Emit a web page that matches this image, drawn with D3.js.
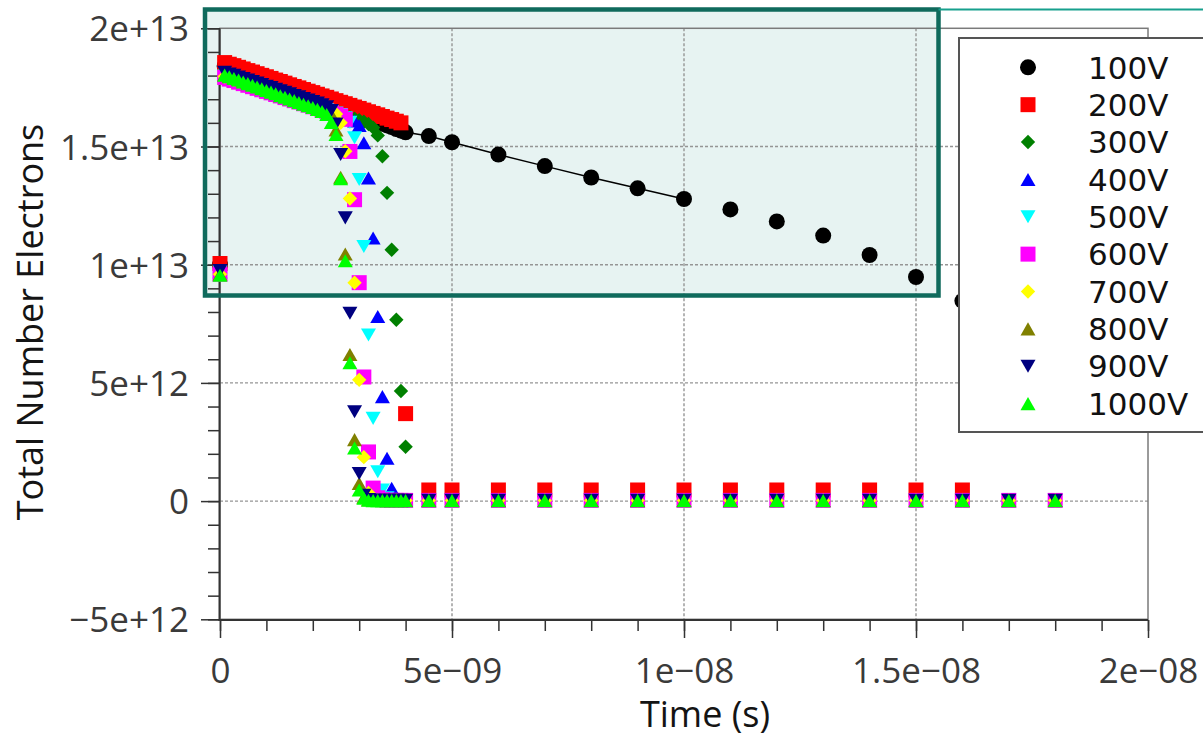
<!DOCTYPE html>
<html>
<head>
<meta charset="utf-8">
<script src="https://cdn.jsdelivr.net/npm/d3@7"></script>
<style>
  html, body { margin: 0; padding: 0; background: #fff; overflow: hidden; }
  svg { display: block; }
</style>
</head>
<body>
<svg id="chart" width="1203" height="738"></svg>
<script>
// ---- data -------------------------------------------------------------
// sample times in nanoseconds (fine output every 0.1 ns up to 4 ns, then coarse)
const timeNs = [0, 0.1, 0.2, 0.3, 0.4, 0.5, 0.6, 0.7, 0.8, 0.9,
  1.0, 1.1, 1.2, 1.3, 1.4, 1.5, 1.6, 1.7, 1.8, 1.9,
  2.0, 2.1, 2.2, 2.3, 2.4, 2.5, 2.6, 2.7, 2.8, 2.9,
  3.0, 3.1, 3.2, 3.3, 3.4, 3.5, 3.6, 3.7, 3.8, 3.9,
  4.0, 4.5, 5, 6, 7, 8, 9, 10, 11, 12, 13, 14, 15, 16, 17, 18];

// total number of electrons, in units of 1e12, one value per sample time
const e100V = [10.00, 18.40, 18.33, 18.26, 18.18, 18.11, 18.04, 17.97, 17.90, 17.83,
  17.75, 17.68, 17.61, 17.54, 17.47, 17.39, 17.32, 17.25, 17.18, 17.11,
  17.04, 16.96, 16.89, 16.82, 16.75, 16.68, 16.60, 16.53, 16.46, 16.39,
  16.32, 16.25, 16.17, 16.10, 16.03, 15.96, 15.89, 15.82, 15.74, 15.67,
  15.60, 15.44, 15.18, 14.66, 14.17, 13.69, 13.23, 12.78, 12.34, 11.83, 11.23, 10.41, 9.48, 8.47, 7.25, 5.90];

const e200V = [10.05, 18.55, 18.48, 18.42, 18.35, 18.28, 18.21, 18.15, 18.08, 18.01,
  17.95, 17.88, 17.81, 17.75, 17.68, 17.61, 17.54, 17.48, 17.41, 17.34,
  17.28, 17.21, 17.14, 17.08, 17.01, 16.94, 16.87, 16.81, 16.74, 16.67,
  16.61, 16.54, 16.47, 16.40, 16.34, 16.27, 16.20, 16.14, 16.07, 16.00,
  3.70, 0.47, 0.47, 0.47, 0.47, 0.47, 0.47, 0.47, 0.47, 0.47, 0.47, 0.47, 0.47, 0.47, null, null];

const e300V = [9.65, 18.00, 17.93, 17.87, 17.80, 17.74, 17.67, 17.61, 17.54, 17.48,
  17.41, 17.35, 17.28, 17.22, 17.15, 17.09, 17.02, 16.96, 16.89, 16.83,
  16.76, 16.70, 16.63, 16.57, 16.50, 16.44, 16.37, 16.31, 16.24, 16.18,
  16.11, 16.05, 15.95, 15.80, 15.47, 14.59, 13.04, 10.63, 7.67, 4.66,
  2.30, 0.04, 0.04, 0.04, 0.04, 0.04, 0.04, 0.04, 0.04, 0.04, 0.04, 0.04, 0.04, 0.04, 0.04, 0.04];

const e400V = [9.70, 18.02, 17.95, 17.89, 17.82, 17.76, 17.69, 17.63, 17.56, 17.50,
  17.43, 17.37, 17.30, 17.24, 17.17, 17.11, 17.04, 16.98, 16.91, 16.85,
  16.78, 16.72, 16.65, 16.59, 16.52, 16.46, 16.39, 16.33, 16.22, 16.08,
  15.89, 15.16, 13.67, 11.13, 7.81, 4.42, 1.81, 0.54, 0.15, 0.06,
  0.04, 0.03, 0.03, 0.03, 0.03, 0.03, 0.03, 0.03, 0.03, 0.03, 0.03, 0.03, 0.03, 0.03, 0.03, 0.03];

const e500V = [9.70, 17.98, 17.91, 17.85, 17.78, 17.72, 17.65, 17.59, 17.52, 17.46,
  17.39, 17.33, 17.26, 17.20, 17.13, 17.07, 17.00, 16.94, 16.87, 16.81,
  16.74, 16.68, 16.61, 16.55, 16.48, 16.42, 16.35, 16.22, 16.02, 15.37,
  13.60, 10.77, 7.03, 3.50, 1.24, 0.47, 0.14, 0.06, 0.04, 0.03,
  0.03, 0.03, 0.03, 0.03, 0.03, 0.03, 0.03, 0.03, 0.03, 0.03, 0.03, 0.03, 0.03, 0.03, 0.03, 0.03];

const e600V = [9.60, 17.92, 17.85, 17.79, 17.72, 17.66, 17.59, 17.53, 17.46, 17.40,
  17.33, 17.27, 17.20, 17.14, 17.07, 17.01, 16.94, 16.88, 16.81, 16.75,
  16.68, 16.62, 16.55, 16.49, 16.42, 16.36, 16.29, 16.15, 14.79, 12.75,
  9.24, 5.25, 2.08, 0.55, 0.14, 0.06, 0.04, 0.03, 0.03, 0.03,
  0.03, 0.03, 0.03, 0.03, 0.03, 0.03, 0.03, 0.03, 0.03, 0.03, 0.03, 0.03, 0.03, 0.03, 0.03, 0.03];

const e700V = [9.60, 17.96, 17.89, 17.83, 17.76, 17.70, 17.63, 17.57, 17.50, 17.44,
  17.37, 17.31, 17.24, 17.18, 17.11, 17.05, 16.98, 16.92, 16.85, 16.79,
  16.72, 16.66, 16.59, 16.53, 16.46, 16.38, 16.00, 14.80, 12.80, 9.24,
  5.13, 1.86, 0.34, 0.08, 0.04, 0.03, 0.03, 0.03, 0.03, 0.03,
  0.03, 0.03, 0.03, 0.03, 0.03, 0.03, 0.03, 0.03, 0.03, 0.03, 0.03, 0.03, 0.03, 0.03, 0.03, 0.03];

const e800V = [9.60, 18.04, 17.97, 17.91, 17.84, 17.78, 17.71, 17.65, 17.58, 17.52,
  17.45, 17.39, 17.32, 17.26, 17.19, 17.13, 17.06, 17.00, 16.93, 16.87,
  16.80, 16.74, 16.67, 16.55, 16.35, 15.70, 13.70, 10.45, 6.20, 2.60,
  0.75, 0.16, 0.06, 0.03, 0.03, 0.03, 0.03, 0.03, 0.03, 0.03,
  0.03, 0.03, 0.03, 0.03, 0.03, 0.03, 0.03, 0.03, 0.03, 0.03, 0.03, 0.03, 0.03, 0.03, 0.03, 0.03];

const e900V = [9.75, 18.14, 18.07, 18.01, 17.94, 17.88, 17.81, 17.75, 17.68, 17.62,
  17.55, 17.49, 17.42, 17.36, 17.29, 17.23, 17.16, 17.10, 17.03, 16.97,
  16.90, 16.84, 16.77, 16.68, 16.52, 15.95, 14.66, 11.98, 7.95, 3.78,
  1.17, 0.25, 0.07, 0.04, 0.04, 0.04, 0.04, 0.04, 0.04, 0.04,
  0.04, 0.04, 0.04, 0.04, 0.04, 0.04, 0.04, 0.04, 0.04, 0.04, 0.04, 0.04, 0.04, 0.04, 0.04, 0.04];

const e1000V = [9.55, 18.02, 17.95, 17.88, 17.81, 17.73, 17.66, 17.59, 17.52, 17.44,
  17.37, 17.30, 17.23, 17.15, 17.08, 17.01, 16.94, 16.86, 16.79, 16.72,
  16.65, 16.57, 16.48, 16.35, 16.02, 15.51, 13.64, 10.17, 5.85, 2.25,
  0.47, 0.12, 0.04, 0.02, 0.02, 0.02, 0.02, 0.02, 0.02, 0.02,
  0.02, 0.02, 0.02, 0.02, 0.02, 0.02, 0.02, 0.02, 0.02, 0.02, 0.02, 0.02, 0.02, 0.02, 0.02, 0.02];

const seriesNames = ["100V", "200V", "300V", "400V", "500V", "600V", "700V", "800V", "900V", "1000V"];
const seriesValues = [e100V, e200V, e300V, e400V, e500V, e600V, e700V, e800V, e900V, e1000V];

// the 100 V run is also traced with a line up to this time (ns)
const lineEndNs = 10;

const xTickValues = [0, 5e-9, 1e-8, 1.5e-8, 2e-8];
const xTickLabels = ["0", "5e\u221209", "1e\u221208", "1.5e\u221208", "2e\u221208"];
const yTickValues = [-5e12, 0, 5e12, 1e13, 1.5e13, 2e13];
const yTickLabels = ["\u22125e+12", "0", "5e+12", "1e+13", "1.5e+13", "2e+13"];

// ---- styles -----------------------------------------------------------
const seriesColors = ["#000000", "#ff0000", "#008000", "#0000ff", "#00ffff",
  "#ff00ff", "#ffff00", "#808000", "#000080", "#00ff00"];
const seriesShapes = ["circle", "square", "diamond", "triUp", "triDown",
  "square", "diamond", "triUp", "triDown", "triUp"];

// marker shapes; the size argument is the half-extent in pixels
const markerTypes = {
  circle:  { draw(c, r) { c.moveTo(r, 0); c.arc(0, 0, r, 0, 2 * Math.PI); c.closePath(); } },
  square:  { draw(c, h) { c.rect(-h, -h, 2 * h, 2 * h); } },
  diamond: { draw(c, h) { c.moveTo(0, -h); c.lineTo(h, 0); c.lineTo(0, h); c.lineTo(-h, 0); c.closePath(); } },
  triUp:   { draw(c, h) { const t = h * 0.87; c.moveTo(0, -t); c.lineTo(h, t); c.lineTo(-h, t); c.closePath(); } },
  triDown: { draw(c, h) { const t = h * 0.87; c.moveTo(0, t); c.lineTo(h, -t); c.lineTo(-h, -t); c.closePath(); } }
};
const markerSize = { circle: 8, square: 7.5, diamond: 7.2, triUp: 7.5, triDown: 7.5 };

// ---- layout -----------------------------------------------------------
const plot = { left: 220, right: 1148, top: 28.3, bottom: 619.3 };
const svg = d3.select("#chart");

const x = d3.scaleLinear().domain([0, 2e-8]).range([plot.left, plot.right]);
const y = d3.scaleLinear().domain([-5e12, 2e13]).range([plot.bottom, plot.top]);

const tickFont = "'Open Sans', 'Noto Sans', sans-serif";

svg.append("rect").attr("width", 1203).attr("height", 738).attr("fill", "#ffffff");

// highlighted region (fill sits under the plot, outline on top)
const hl = { x0: 205, y0: 9.5, x1: 938.5, y1: 295.5 };
svg.append("rect")
  .attr("x", hl.x0).attr("y", hl.y0)
  .attr("width", hl.x1 - hl.x0).attr("height", hl.y1 - hl.y0)
  .attr("fill", "#e7f3f2");

// grid
const grid = svg.append("g").attr("stroke", "#959595").attr("stroke-width", 1.4)
  .attr("stroke-dasharray", "3,2");
grid.selectAll("line.gx").data(xTickValues.slice(1, -1)).join("line")
  .attr("x1", d => x(d)).attr("x2", d => x(d))
  .attr("y1", plot.top).attr("y2", plot.bottom);
grid.selectAll("line.gy").data(yTickValues.slice(1, -1)).join("line")
  .attr("x1", plot.left).attr("x2", plot.right)
  .attr("y1", d => y(d)).attr("y2", d => y(d));

// plot frame
svg.append("rect")
  .attr("x", plot.left).attr("y", plot.top)
  .attr("width", plot.right - plot.left).attr("height", plot.bottom - plot.top)
  .attr("fill", "none").attr("stroke", "#7a7a7a").attr("stroke-width", 1.5);

// axes: minor ticks first, then labelled majors
function styleAxis(g) {
  g.select(".domain").remove();
  g.selectAll(".tick line").attr("stroke", "#333").attr("stroke-width", 1.5);
  g.selectAll(".tick text").attr("fill", "#3a3a3a")
    .style("font-family", tickFont).style("font-size", "35px");
}

svg.append("g").attr("transform", `translate(${plot.left},0)`)
  .call(d3.axisLeft(y).ticks(25).tickSize(12).tickFormat(""))
  .call(styleAxis);
svg.append("g").attr("transform", `translate(${plot.left},0)`)
  .call(d3.axisLeft(y).tickValues(yTickValues).tickSize(19).tickPadding(12)
    .tickFormat((d, i) => yTickLabels[i]))
  .call(styleAxis)
  .call(g => g.selectAll(".tick text").attr("dy", "0.36em"));

svg.append("g").attr("transform", `translate(0,${plot.bottom + 0.7})`)
  .call(d3.axisBottom(x).ticks(20).tickSize(11).tickFormat(""))
  .call(styleAxis);
svg.append("g").attr("transform", `translate(0,${plot.bottom + 0.7})`)
  .call(d3.axisBottom(x).tickValues(xTickValues).tickSize(18).tickPadding(20)
    .tickFormat((d, i) => xTickLabels[i]))
  .call(styleAxis);

// axis lines
svg.append("line").attr("x1", plot.left - 0.5).attr("x2", plot.left - 0.5)
  .attr("y1", plot.top).attr("y2", plot.bottom + 1.5)
  .attr("stroke", "#333").attr("stroke-width", 2);
svg.append("line").attr("x1", plot.left - 1.5).attr("x2", plot.right)
  .attr("y1", plot.bottom + 0.7).attr("y2", plot.bottom + 0.7)
  .attr("stroke", "#333").attr("stroke-width", 2);

// axis titles
svg.append("text")
  .attr("x", 705).attr("y", 727)
  .attr("text-anchor", "middle")
  .style("font-family", tickFont).style("font-size", "36px").attr("fill", "#141414")
  .text("Time (s)");
svg.append("text")
  .attr("transform", "translate(43,322) rotate(-90)")
  .attr("text-anchor", "middle")
  .style("font-family", tickFont).style("font-size", "36px").attr("fill", "#141414")
  .text("Total Number Electrons");

// ---- series -----------------------------------------------------------
const series = seriesNames.map((name, k) => ({
  name,
  points: timeNs.map((t, i) => ({ t: t * 1e-9, v: seriesValues[k][i] }))
    .filter(p => p.v !== null)
    .map(p => ({ t: p.t, v: p.v * 1e12 })),
  color: seriesColors[k],
  shape: seriesShapes[k]
}));

// trace line for the 100 V run
const line = d3.line().x(d => x(d.t)).y(d => y(d.v));
svg.append("path")
  .datum(series[0].points.filter(p => p.t > 0 && p.t <= lineEndNs * 1e-9 + 1e-15))
  .attr("d", line)
  .attr("fill", "none").attr("stroke", "#000").attr("stroke-width", 1.5);

const marks = svg.append("g");
series.forEach(s => {
  const sym = d3.symbol().type(markerTypes[s.shape]).size(markerSize[s.shape]);
  marks.append("g").selectAll("path").data(s.points).join("path")
    .attr("transform", d => `translate(${x(d.t)},${y(d.v)})`)
    .attr("d", sym)
    .attr("fill", s.color);
});

// highlight outline and leader line
svg.append("rect")
  .attr("x", hl.x0).attr("y", hl.y0)
  .attr("width", hl.x1 - hl.x0).attr("height", hl.y1 - hl.y0)
  .attr("fill", "none").attr("stroke", "#0f6a5c").attr("stroke-width", 4.5);
svg.append("line")
  .attr("x1", hl.x1).attr("x2", 1203).attr("y1", 9.5).attr("y2", 9.5)
  .attr("stroke", "#17a08d").attr("stroke-width", 2.2);

// ---- legend -----------------------------------------------------------
const legend = svg.append("g");
legend.append("rect")
  .attr("x", 959).attr("y", 38).attr("width", 260).attr("height", 394)
  .attr("fill", "#fff").attr("stroke", "#555").attr("stroke-width", 2);
const rowY = d3.scaleLinear().domain([0, 9]).range([67.3, 403.6]);
series.forEach((s, k) => {
  const sym = d3.symbol().type(markerTypes[s.shape]).size(markerSize[s.shape]);
  legend.append("path")
    .attr("transform", `translate(1028,${rowY(k)})`)
    .attr("d", sym).attr("fill", s.color);
  legend.append("text")
    .attr("x", 1088).attr("y", rowY(k) + 11.2)
    .style("font-family", "'DejaVu Sans', sans-serif").style("font-size", "31px")
    .attr("fill", "#111")
    .text(s.name);
});
</script>
</body>
</html>
